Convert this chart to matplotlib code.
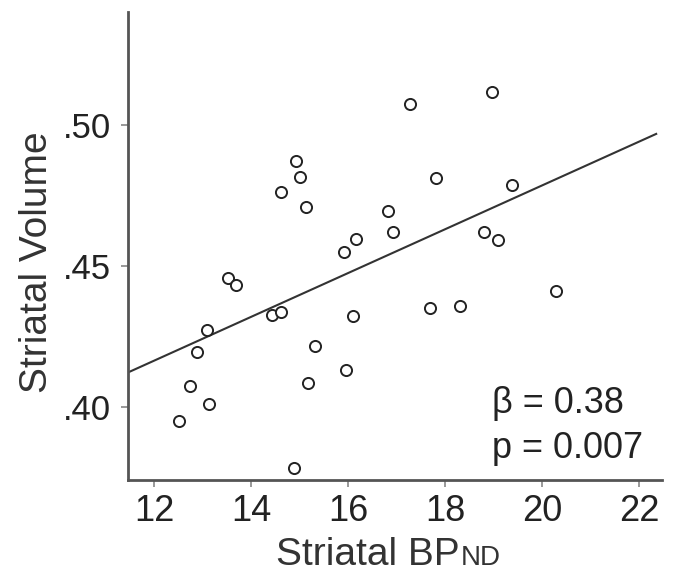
import numpy as np
import matplotlib.pyplot as plt

plt.rcParams['font.family'] = ['Liberation Sans', 'DejaVu Sans']

# Data
bp_nd = [14.93, 15.00, 14.61, 15.12, 16.82, 16.92, 16.16, 15.92, 13.52, 13.68,
         14.43, 14.62, 16.10, 13.09, 15.32, 12.89, 15.95, 15.18, 12.74, 13.13,
         12.52, 14.88, 17.28, 18.96, 17.81, 19.38, 18.81, 19.08, 20.29, 17.68,
         18.31]
volume = [0.4870, 0.4815, 0.4761, 0.4710, 0.4695, 0.4620, 0.4596, 0.4547, 0.4456, 0.4432,
          0.4326, 0.4336, 0.4323, 0.4273, 0.4214, 0.4193, 0.4129, 0.4085, 0.4072, 0.4011,
          0.3951, 0.3784, 0.5073, 0.5116, 0.4810, 0.4787, 0.4618, 0.4592, 0.4412, 0.4350,
          0.4356]
fit_slope = 0.00777
fit_intercept = 0.3231
x_ticks = [12, 14, 16, 18, 20, 22]
y_ticks = [0.40, 0.45, 0.50]
y_tick_labels = ['.40', '.45', '.50']

W, H = 673, 573
fig = plt.figure(figsize=(W/100, H/100), dpi=100)
ax = fig.add_axes([128/W, 1-480/H, 534/W, 468/H])

xlim = (11.46, 22.47)
ax.set_xlim(*xlim)
ax.set_ylim(0.374, 0.540)

ax.plot(bp_nd, volume, 'o', mfc='white', mec='#222222', ms=8, mew=1.4, zorder=3)

xs = np.array([xlim[0], 22.35])
ax.plot(xs, fit_intercept + fit_slope*xs, color='#333333', lw=1.5)

for s in ['top', 'right']:
    ax.spines[s].set_visible(False)
for s in ['left', 'bottom']:
    ax.spines[s].set_color('#555555')
    ax.spines[s].set_linewidth(2)

ax.set_xticks(x_ticks)
ax.set_yticks(y_ticks)
ax.set_yticklabels(y_tick_labels)
ax.tick_params(colors='#888888', labelcolor='#222222', length=5, width=1.2)
ax.tick_params(axis='x', labelsize=26, pad=5)
ax.tick_params(axis='y', labelsize=25, pad=7.5)

# axis titles
fig.text(37/W, 1-262/H, 'Striatal Volume', fontsize=28, color='#333333',
         rotation=90, ha='center', va='center')
fig.text(460/W, 1-565/H, 'Striatal BP', fontsize=28, color='#333333', ha='right', va='baseline')
fig.text(461/W, 1-565/H, 'ND', fontsize=20, color='#333333', ha='left', va='baseline')

# stats
fig.text(492/W, 1-413/H, 'β = 0.38', fontsize=26, color='#222222', va='baseline')
fig.text(492/W, 1-458/H, 'p = 0.007', fontsize=26, color='#222222', va='baseline')

fig.savefig('out.png', dpi=100, facecolor='white')
